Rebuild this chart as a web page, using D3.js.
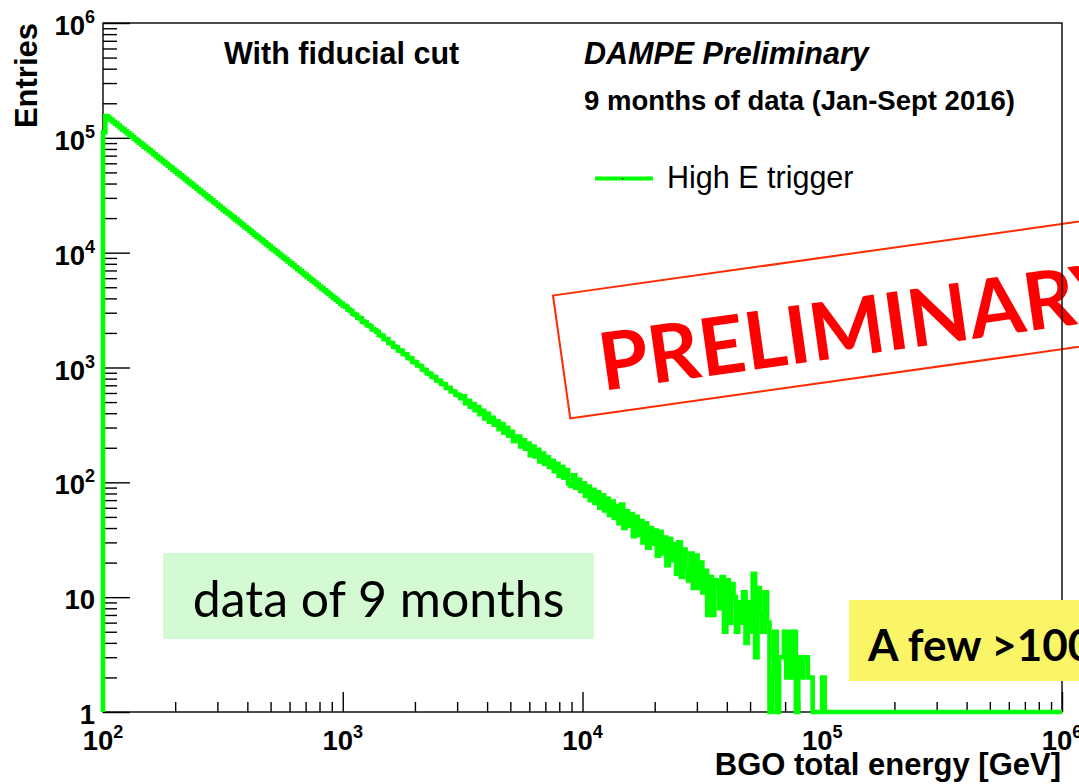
<!DOCTYPE html>
<html>
<head>
<meta charset="utf-8">
<script src="https://cdn.jsdelivr.net/npm/d3@7"></script>
<style>
  html, body { margin: 0; padding: 0; background: #fff; overflow: hidden; }
  svg { display: block; }
</style>
</head>
<body>
<svg id="chart" width="1079" height="784"></svg>
<script>
// Histogram binning: logarithmic bins between 100 GeV and 1 PeV
const binsPerDecade = 100;
const energyRange = [1e2, 1e6];

// Entries per bin (High E trigger, 9 months)
const entries = [
  112000,
  155000,149100,143500,138100,132900,127900,123100,118500,114000,109700,
  105600,101600,97800,94100,90600,87200,83900,80700,77700,74800,
  72000,69200,66600,64100,61700,59400,57100,55000,52900,50900,
  49000,47100,45400,43700,42000,40400,38900,37500,36000,34700,
  33400,32100,30900,29700,28600,27500,26500,25500,24500,23600,
  22700,21900,21100,20300,19500,18800,18100,17400,16700,16100,
  15500,14900,14300,13800,13300,12800,12300,11800,11400,10900,
  10550,10150,9770,9400,9050,8710,8380,8060,7760,7470,
  7190,6910,6650,6400,6160,5930,5710,5490,5280,5080,
  4890,4710,4530,4360,4200,4040,3890,3740,3600,
  3460,3380,3190,3120,2940,2880,2720,2680,2510,2470,
  2330,2300,2150,2120,2050,1920,1890,1770,1760,1640,
  1630,1520,1500,1410,1400,1310,1300,1210,1200,1120,
  1110,1040,1030,960,950,890,880,830,825,770,
  765,720,715,665,665,620,618,580,575,540,
  560,490,512,455,480,425,452,392,420,360,
  395,338,365,318,340,290,322,270,298,255,
  275,228,238,250,205,232,196,218,172,205,
  168,192,152,178,145,165,136,154,125,145,
  114,136,110,128,98,93,115,90,105,84,
  98,76,92,70,86,66,82,60,77,57,
  72,52,68,49,62,44,64,40,56,42,
  53,34,50,35,46,30,44,27,40,29,
  38,23,37,24,33,19,32,21,29,16,
  30,15,26,18,14,24,12,23,12,20,
  11,17,7,15,7,14,13,8,15,5,
  14,6,13,10,5,9,6,11,4,9,
  5,16,3,12,7,5,
  11,6,0,2,5,0,3,3,5,2,
  5,2,5,0,3,2,3,3,2,2,
  0,0,0,0,2,
  0,0,0,0,0,0,0,0,0,0,0,0,0,0,0,0,0,0,0,0,
  0,0,0,0,0,0,0,0,0,0,0,0,0,0,0,0,0,0,0,0,
  0,0,0,0,0,0,0,0,0,0,0,0,0,0,0,0,0,0,0,0,
  0,0,0,0,0,0,0,0,0,0,0,0,0,0,0,0,0,0,0,0,
  0,0,0,0,0,0,0,0,0,0,0,0,0,0,0,0,0,0,0
];

// Axis decades (powers of ten)
const xTickExponents = [2, 3, 4, 5, 6];
const yTickExponents = [0, 1, 2, 3, 4, 5, 6];

// Annotation texts
const xTitle = "BGO total energy [GeV]";
const yTitle = "Entries";
const cutLabel = "With fiducial cut";
const expLabel = "DAMPE Preliminary";
const periodLabel = "9 months of data (Jan-Sept 2016)";
const seriesName = "High E trigger";
const stampText = "PRELIMINARY";
const dataNote = "data of 9 months";
const highNote = "A few >100 TeV";

const svg = d3.select("#chart");
const frame = { left: 103, right: 1062, top: 23, bottom: 712 };

const x = d3.scaleLog().domain(energyRange).range([frame.left, frame.right]);
const y = d3.scaleLog().domain([1, 1e6]).range([frame.bottom, frame.top]).clamp(true);

const helv = "'Liberation Sans', Arial, Helvetica, sans-serif";
const calibriLike = "Lato, 'Open Sans', sans-serif";

// Major / minor tick values from the decades
function minorTicks(exps) {
  const out = [];
  for (let i = 0; i < exps.length - 1; i++) {
    for (let m = 2; m <= 9; m++) out.push(m * Math.pow(10, exps[i]));
  }
  return out;
}
const xMajor = xTickExponents.map(e => Math.pow(10, e));
const yMajor = yTickExponents.map(e => Math.pow(10, e));

// ---- PRELIMINARY stamp (behind the frame) ----
const stamp = svg.append("g").attr("transform", "translate(553,295.5) rotate(-8)");
stamp.append("rect")
  .attr("x", 0).attr("y", 0).attr("width", 640).attr("height", 124)
  .attr("fill", "none").attr("stroke", "#ff2a00").attr("stroke-width", 2);
svg.append("text")
  .attr("transform", "translate(603,391) rotate(-8)")
  .attr("font-family", calibriLike).attr("font-weight", 700)
  .attr("font-size", 80).attr("fill", "#ff0000")
  .text(stampText);

// ---- axes ----
const gx = svg.append("g").attr("transform", `translate(0,${frame.bottom})`);
gx.append("g").call(d3.axisBottom(x).tickValues(xMajor).tickSize(-20).tickFormat(""));
gx.append("g").call(d3.axisBottom(x).tickValues(minorTicks(xTickExponents)).tickSize(-10).tickFormat(""));
const gy = svg.append("g").attr("transform", `translate(${frame.left},0)`);
gy.append("g").call(d3.axisLeft(y).tickValues(yMajor).tickSize(-27).tickFormat(""));
gy.append("g").call(d3.axisLeft(y).tickValues(minorTicks(yTickExponents)).tickSize(-14).tickFormat(""));
svg.selectAll(".domain").remove();
svg.selectAll(".tick line").attr("stroke", "#000").attr("stroke-width", 1.4);

// frame
svg.append("rect")
  .attr("x", frame.left).attr("y", frame.top)
  .attr("width", frame.right - frame.left).attr("height", frame.bottom - frame.top)
  .attr("fill", "none").attr("stroke", "#000").attr("stroke-width", 1.4);

// tick labels with superscript exponents
function powerLabel(sel, e) {
  if (e === 0) { sel.append("tspan").text("1"); return; }
  if (e === 1) { sel.append("tspan").text("10"); return; }
  sel.append("tspan").text("10");
  sel.append("tspan").attr("dy", -12).attr("font-size", 18).text(e);
}
yTickExponents.forEach(e => {
  const t = svg.append("text")
    .attr("x", 95).attr("y", y(Math.pow(10, e)) + 12)
    .attr("text-anchor", "end")
    .attr("font-family", helv).attr("font-weight", 700).attr("font-size", 27.5)
    .attr("fill", "#000");
  powerLabel(t, e);
});
xTickExponents.forEach(e => {
  const t = svg.append("text")
    .attr("x", x(Math.pow(10, e))).attr("y", 750)
    .attr("text-anchor", "middle")
    .attr("font-family", helv).attr("font-weight", 700).attr("font-size", 27.5)
    .attr("fill", "#000");
  powerLabel(t, e);
});

// axis titles
svg.append("text")
  .attr("x", frame.right - 1).attr("y", 775)
  .attr("text-anchor", "end")
  .attr("font-family", helv).attr("font-weight", 700).attr("font-size", 31)
  .text(xTitle);
svg.append("text")
  .attr("transform", `translate(37,${frame.top}) rotate(-90)`)
  .attr("text-anchor", "end")
  .attr("font-family", helv).attr("font-weight", 700).attr("font-size", 31)
  .text(yTitle);

// ---- histogram outline ----
const edges = d3.range(entries.length + 1)
  .map(i => energyRange[0] * Math.pow(10, i / binsPerDecade));
let path = `M${x(edges[0])},${y(1)}`;
entries.forEach((v, i) => {
  path += `V${y(Math.max(v, 1))}H${x(edges[i + 1])}`;
});
svg.append("path")
  .attr("d", path)
  .attr("fill", "none")
  .attr("stroke", "#00ff00")
  .attr("stroke-width", 4.6)
  .attr("stroke-linejoin", "miter");

// ---- plot annotations ----
svg.append("text")
  .attr("x", 224).attr("y", 64)
  .attr("font-family", helv).attr("font-weight", 700).attr("font-size", 30.5)
  .text(cutLabel);
svg.append("text")
  .attr("x", 584).attr("y", 64)
  .attr("font-family", helv).attr("font-weight", 700).attr("font-style", "italic").attr("font-size", 30.5)
  .text(expLabel);
svg.append("text")
  .attr("x", 584).attr("y", 110)
  .attr("font-family", helv).attr("font-weight", 700).attr("font-size", 27.5)
  .text(periodLabel);

// legend
svg.append("line")
  .attr("x1", 595).attr("x2", 653).attr("y1", 178.5).attr("y2", 178.5)
  .attr("stroke", "#00ff00").attr("stroke-width", 4);
svg.append("rect")
  .attr("x", 622).attr("y", 178).attr("width", 1.5).attr("height", 1.2).attr("fill", "#000");
svg.append("text")
  .attr("x", 667).attr("y", 188)
  .attr("font-family", helv).attr("font-size", 30.5)
  .text(seriesName);

// ---- slide notes ----
svg.append("rect")
  .attr("x", 163).attr("y", 553).attr("width", 431).attr("height", 86)
  .attr("fill", "#d4fad4");
svg.append("text")
  .attr("x", 378.5).attr("y", 617)
  .attr("text-anchor", "middle")
  .attr("font-family", calibriLike).attr("font-size", 50)
  .text(dataNote);

svg.append("rect")
  .attr("x", 849).attr("y", 600).attr("width", 260).attr("height", 81)
  .attr("fill", "#faf566");
svg.append("text")
  .attr("x", 868).attr("y", 661)
  .attr("font-family", calibriLike).attr("font-weight", 700).attr("font-size", 44)
  .text(highNote);
</script>
</body>
</html>
